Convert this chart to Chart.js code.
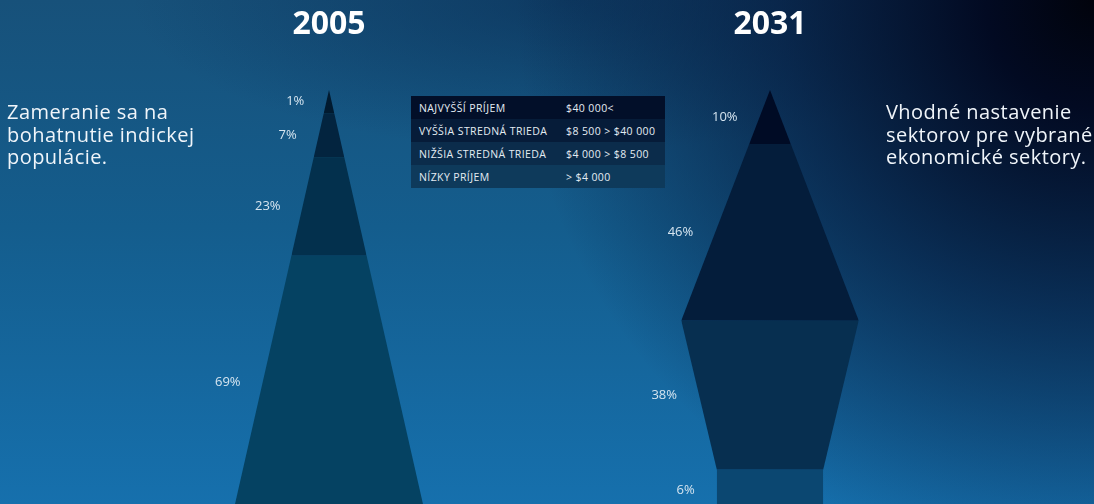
<!DOCTYPE html>
<html lang="sk">
<head>
<meta charset="utf-8">
<script src="https://cdn.jsdelivr.net/npm/chart.js@4/dist/chart.umd.min.js"></script>
<style>
  html, body { margin: 0; padding: 0; }
  body {
    width: 1094px; height: 504px; overflow: hidden; position: relative;
    font-family: 'Open Sans', sans-serif; color: #fff;
    background:
      radial-gradient(circle at 100% 0%, #01030c 0%, #020a22 9%, rgba(5, 25, 60, 0.7) 26%, rgba(10, 50, 100, 0) 48%),
      radial-gradient(ellipse 40% 30% at 52% 0%, rgba(6, 40, 80, 0.55) 0%, rgba(6, 40, 80, 0) 100%),
      linear-gradient(180deg, #17517a 0%, #145d8d 45%, #1670ad 100%);
  }
  #wrap { position: absolute; left: 0; top: 0; width: 1094px; height: 504px; }
  .year {
    position: absolute; top: 0; width: 160px; margin-left: -80px;
    text-align: center; font-weight: 700; font-size: 32px; line-height: 44px;
  }
  .note { position: absolute; font-size: 20px; line-height: 22.5px; letter-spacing: 0.45px; color: #f0f5fa; }
  #legend {
    position: absolute; left: 411px; top: 96px; width: 254px;
    border-collapse: collapse; font-size: 10.5px; letter-spacing: 0.4px; color: #e4ecf3;
  }
  #legend td { height: 23px; padding: 0; white-space: nowrap; }
  #legend td:first-child { padding-left: 8px; width: 147px; }
</style>
</head>
<body>
<div id="wrap"><canvas id="pyramids"></canvas></div>
<div class="year" style="left:329px">2005</div>
<div class="year" style="left:770px">2031</div>
<div class="note" style="left:7px; top:101px">Zameranie sa na<br>bohatnutie indickej<br>populácie.</div>
<div class="note" style="left:886px; top:101px">Vhodné nastavenie<br>sektorov pre vybrané<br>ekonomické sektory.</div>
<table id="legend"></table>
<script>
// Income classes (top of pyramid first)
const years = ['2005', '2031'];
const categories = ['NAJVYŠŠÍ PRÍJEM', 'VYŠŠIA STREDNÁ TRIEDA', 'NIŽŠIA STREDNÁ TRIEDA', 'NÍZKY PRÍJEM'];
const incomeRanges = ['$40 000<', '$8 500 > $40 000', '$4 000 > $8 500', '> $4 000'];
const share2005 = [1, 7, 23, 69];
const share2031 = [10, 46, 38, 6];

// Layout / styles
const centers = { '2005': 329, '2031': 770 };
const bandColors = {
  '2005': ['#011a2f', '#03243f', '#03304d', '#054262'],
  '2031': ['#000b25', '#041d3b', '#072f50', '#0b4771']
};
const legendColors = ['#020f29', '#061c39', '#0b2c4b', '#0e3a5b'];

// band depth grows with the share
function bandEdges(values) {
  const edges = [0];
  values.forEach(v => edges.push(edges[edges.length - 1] + 20 + 3.4 * v));
  return edges;
}

function triangleWidths(edges) {
  return edges.map(d => 0.227 * d);
}

function diamondWidths(edges) {
  const peak = 0.385 * edges[2];
  return edges.map((d, i) => i <= 2 ? 0.385 * d : 0.6 * peak);
}

function bandDatasets(year, values, widthFn) {
  const edges = bandEdges(values);
  const widths = widthFn(edges);
  const c = centers[year];
  return values.map((v, i) => {
    const yt = edges[i], yb = edges[i + 1];
    const wt = widths[i], wb = widths[i + 1];
    const widening = wb >= wt;
    const data = widening
      ? [{ x: c - wb, y: yb }, { x: c - wt, y: yt }, { x: c + wt, y: yt }, { x: c + wb, y: yb }]
      : [{ x: c - wt, y: yt }, { x: c - wb, y: yb }, { x: c + wb, y: yb }, { x: c + wt, y: yt }];
    return {
      label: year + ' ' + categories[i],
      data: data,
      share: v,
      labelX: c - (wt + wb) / 2,
      labelY: (yt + yb) / 2,
      backgroundColor: bandColors[year][i],
      borderWidth: 0,
      pointRadius: 0,
      fill: { value: widening ? yb : yt }
    };
  });
}

// Percent labels left of each band
const shareLabels = {
  id: 'shareLabels',
  afterDatasetsDraw(chart) {
    const { ctx, scales: { x, y } } = chart;
    ctx.save();
    ctx.font = '13px "Open Sans"';
    ctx.fillStyle = '#d6e5f0';
    ctx.textAlign = 'right';
    ctx.textBaseline = 'middle';
    chart.data.datasets.forEach(ds => {
      ctx.fillText(ds.share + '%', x.getPixelForValue(ds.labelX) - 22, y.getPixelForValue(ds.labelY));
    });
    ctx.restore();
  }
};

// Legend table
const legend = document.getElementById('legend');
categories.forEach((cat, i) => {
  const row = legend.insertRow();
  row.style.background = legendColors[i];
  row.insertCell().textContent = cat;
  row.insertCell().textContent = incomeRanges[i];
});

const ctx = document.getElementById('pyramids').getContext('2d');
new Chart(ctx, {
  type: 'line',
  data: {
    datasets: [
      ...bandDatasets(years[0], share2005, triangleWidths),
      ...bandDatasets(years[1], share2031, diamondWidths)
    ]
  },
  options: {
    responsive: true,
    maintainAspectRatio: false,
    animation: false,
    layout: { padding: 0 },
    elements: { line: { tension: 0 } },
    plugins: {
      legend: { display: false },
      tooltip: { enabled: false }
    },
    scales: {
      x: { type: 'linear', min: 0, max: 1094, display: false },
      y: { type: 'linear', min: -90, max: 414, reverse: true, display: false }
    }
  },
  plugins: [shareLabels]
});
</script>
</body>
</html>
